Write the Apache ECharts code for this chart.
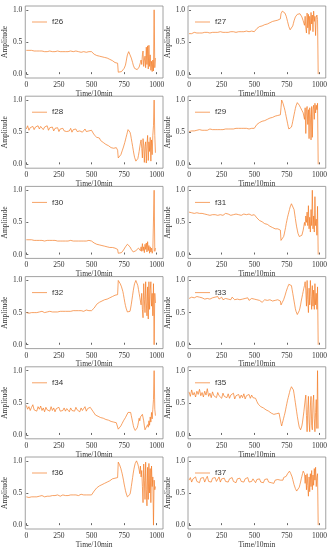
<!DOCTYPE html>
<html><head><meta charset="utf-8">
<script src="https://cdn.jsdelivr.net/npm/echarts@6/dist/echarts.min.js"></script>
<style>html,body{margin:0;padding:0;background:#fff}#c{width:330px;height:550px}</style>
</head><body><div id="c"></div>
<script>
// time positions (Time/10min)
const X = [0,10,20,30,40,50,60,70,80,90,100,110,120,130,140,150,160,170,180,190,
200,210,220,230,240,250,260,270,280,290,300,310,320,330,340,350,360,370,380,390,
400,410,420,430,440,450,460,470,480,490,500,510,520,530,540,550,560,570,580,590,
600,610,620,630,640,650,660,670,680,690,
700,705,710,715,720,725,730,735,740,745,750,755,760,765,770,775,780,785,790,795,
800,805,810,815,820,825,830,835,840,845,850,855,860,865,870,875,880,885,890,895,
900,905,910,915,920,925,930,935,940,945,950,955,960,965,970,975,980,985,990];
const xTicks = [0,250,500,750,1000];
const yTicks = [0,0.5,1];
const names = ['f26','f27','f28','f29','f30','f31','f32','f33','f34','f35','f36','f37'];

const f26 = [0.37,0.36,0.37,0.36,0.37,0.36,0.36,0.37,0.36,0.36,
0.36,0.35,0.36,0.36,0.35,0.36,0.35,0.36,0.36,0.37,
0.35,0.36,0.35,0.35,0.36,0.35,0.35,0.36,0.35,0.35,
0.35,0.36,0.35,0.35,0.36,0.35,0.35,0.35,0.36,0.35,
0.35,0.35,0.34,0.35,0.35,0.35,0.34,0.35,0.35,0.34,
0.35,0.34,0.31,0.30,0.29,0.29,0.28,0.27,0.27,0.26,
0.26,0.25,0.25,0.24,0.23,0.22,0.21,0.19,0.18,0.18,
0.17,0.03,0.02,0.02,0.03,0.03,0.04,0.05,0.06,0.07,
0.09,0.11,0.14,0.19,0.25,0.30,0.33,0.35,0.34,0.30,
0.27,0.25,0.22,0.18,0.14,0.11,0.09,0.08,0.07,0.06,
0.07,0.08,0.09,0.11,0.14,0.18,0.22,0.15,0.30,0.36,
0.12,0.22,0.28,0.10,0.42,0.15,0.44,0.08,0.45,0.12,
0.30,0.06,0.20,0.04,0.22,0.05,1.00,0.10,0.25];
const f27 = [0.63,0.64,0.63,0.64,0.65,0.64,0.64,0.65,0.64,0.65,
0.64,0.65,0.65,0.64,0.65,0.65,0.64,0.65,0.65,0.65,
0.65,0.66,0.65,0.65,0.66,0.65,0.65,0.66,0.65,0.66,
0.65,0.66,0.66,0.65,0.66,0.66,0.65,0.66,0.66,0.66,
0.66,0.65,0.66,0.66,0.67,0.66,0.66,0.66,0.67,0.66,
0.66,0.67,0.71,0.73,0.74,0.75,0.75,0.76,0.77,0.78,
0.78,0.79,0.80,0.81,0.82,0.83,0.83,0.84,0.84,0.85,
0.86,0.94,0.96,0.98,1.00,0.99,0.97,0.95,0.93,0.90,
0.86,0.82,0.78,0.74,0.71,0.69,0.69,0.70,0.72,0.75,
0.79,0.83,0.86,0.89,0.91,0.92,0.93,0.93,0.92,0.93,
0.94,0.93,0.91,0.89,0.86,0.83,0.80,0.76,0.90,0.72,
0.64,0.95,0.72,0.93,0.62,0.90,0.68,0.96,0.78,0.92,
0.66,0.98,0.82,0.90,0.60,0.88,0.92,0.85,0.00];
const f28 = [0.55,0.60,0.53,0.57,0.55,0.59,0.54,0.58,0.56,0.60,
0.55,0.59,0.62,0.54,0.58,0.56,0.60,0.53,0.57,0.55,
0.58,0.52,0.56,0.54,0.57,0.51,0.55,0.53,0.56,0.52,
0.55,0.51,0.54,0.52,0.56,0.50,0.54,0.52,0.55,0.51,
0.54,0.52,0.55,0.50,0.53,0.55,0.51,0.54,0.52,0.55,
0.53,0.50,0.46,0.44,0.42,0.40,0.41,0.37,0.36,0.34,
0.35,0.31,0.32,0.29,0.28,0.26,0.27,0.25,0.24,0.26,
0.22,0.10,0.08,0.11,0.13,0.15,0.18,0.21,0.24,0.27,
0.30,0.34,0.38,0.42,0.46,0.50,0.54,0.57,0.55,0.50,
0.46,0.40,0.34,0.28,0.22,0.16,0.11,0.08,0.05,0.04,
0.06,0.09,0.14,0.20,0.27,0.33,0.38,0.25,0.10,0.40,
0.30,0.03,0.28,0.35,0.02,0.30,0.45,0.06,0.35,0.20,
0.42,0.05,0.38,0.15,0.45,0.60,1.00,0.45,0.18];
const f29 = [0.51,0.53,0.52,0.53,0.52,0.54,0.53,0.52,0.54,0.53,
0.53,0.54,0.53,0.54,0.53,0.54,0.55,0.53,0.54,0.54,
0.54,0.55,0.54,0.55,0.54,0.55,0.54,0.55,0.55,0.54,
0.55,0.54,0.55,0.56,0.55,0.55,0.56,0.55,0.56,0.55,
0.56,0.55,0.56,0.55,0.56,0.57,0.55,0.56,0.56,0.55,
0.56,0.57,0.62,0.64,0.65,0.66,0.67,0.68,0.68,0.69,
0.70,0.71,0.72,0.73,0.73,0.74,0.75,0.76,0.76,0.77,
0.77,0.88,1.00,0.98,0.95,0.92,0.88,0.84,0.79,0.74,
0.69,0.64,0.59,0.55,0.53,0.53,0.55,0.58,0.62,0.67,
0.72,0.77,0.82,0.87,0.91,0.94,0.96,0.95,0.93,0.92,
0.90,0.88,0.86,0.84,0.82,0.80,0.78,0.70,0.88,0.48,
0.85,0.90,0.62,0.85,0.40,0.88,0.75,0.38,0.90,0.42,
0.85,0.92,0.70,0.95,0.80,0.92,0.85,0.95,0.00];
const f30 = [0.23,0.22,0.23,0.22,0.23,0.22,0.22,0.23,0.22,0.22,
0.22,0.23,0.22,0.22,0.21,0.22,0.22,0.21,0.22,0.22,
0.22,0.21,0.22,0.22,0.21,0.22,0.21,0.22,0.21,0.22,
0.21,0.22,0.21,0.21,0.22,0.21,0.21,0.22,0.21,0.21,
0.21,0.22,0.21,0.21,0.21,0.22,0.21,0.21,0.22,0.21,
0.21,0.20,0.18,0.17,0.16,0.16,0.15,0.15,0.14,0.14,
0.13,0.13,0.12,0.12,0.11,0.11,0.11,0.10,0.10,0.10,
0.08,0.02,0.01,0.01,0.02,0.02,0.03,0.04,0.05,0.07,
0.08,0.10,0.12,0.14,0.15,0.16,0.16,0.15,0.14,0.12,
0.10,0.08,0.06,0.05,0.04,0.04,0.04,0.05,0.06,0.07,
0.08,0.09,0.10,0.11,0.10,0.06,0.12,0.05,0.17,0.06,
0.12,0.03,0.16,0.08,0.18,0.04,0.20,0.06,0.14,0.02,
0.12,0.04,0.10,0.02,0.06,0.03,1.00,0.05,0.10];
const f31 = [0.66,0.63,0.65,0.62,0.64,0.63,0.65,0.62,0.64,0.63,
0.64,0.62,0.63,0.65,0.62,0.63,0.61,0.64,0.62,0.63,
0.62,0.64,0.61,0.63,0.62,0.63,0.61,0.62,0.64,0.61,
0.63,0.62,0.61,0.63,0.62,0.60,0.63,0.61,0.62,0.63,
0.61,0.62,0.63,0.61,0.62,0.60,0.63,0.62,0.61,0.63,
0.62,0.60,0.57,0.55,0.53,0.52,0.51,0.50,0.48,0.48,
0.47,0.45,0.44,0.43,0.42,0.41,0.40,0.39,0.40,0.40,
0.38,0.22,0.20,0.22,0.25,0.28,0.32,0.37,0.42,0.48,
0.53,0.58,0.62,0.66,0.70,0.74,0.77,0.79,0.80,0.79,
0.76,0.70,0.63,0.56,0.49,0.43,0.38,0.33,0.30,0.28,
0.27,0.27,0.28,0.30,0.33,0.38,0.44,0.50,0.45,0.60,
0.50,0.66,0.45,0.76,0.40,0.58,0.35,0.70,0.45,1.00,
0.40,0.60,0.35,0.90,0.45,0.55,0.30,0.75,0.00];
const f32 = [0.50,0.51,0.49,0.51,0.50,0.52,0.50,0.51,0.50,0.52,
0.51,0.50,0.52,0.51,0.50,0.52,0.51,0.51,0.52,0.50,
0.51,0.52,0.51,0.52,0.51,0.52,0.52,0.51,0.52,0.52,
0.52,0.51,0.52,0.53,0.52,0.52,0.53,0.52,0.53,0.52,
0.53,0.52,0.53,0.53,0.52,0.53,0.54,0.53,0.53,0.54,
0.53,0.54,0.57,0.60,0.63,0.65,0.66,0.67,0.68,0.69,
0.70,0.70,0.71,0.72,0.73,0.74,0.75,0.76,0.77,0.77,
0.78,1.00,0.98,0.97,0.95,0.93,0.90,0.87,0.83,0.78,
0.72,0.66,0.61,0.57,0.54,0.51,0.49,0.48,0.49,0.52,
0.57,0.63,0.70,0.77,0.84,0.90,0.95,0.98,1.00,1.00,
0.97,0.92,0.86,0.80,0.74,0.68,0.62,0.80,0.55,0.42,
0.95,0.70,0.50,0.98,0.65,0.45,0.90,0.40,0.98,0.55,
0.85,0.98,0.60,0.80,0.45,0.95,0.00,0.80,0.65];
const f33 = [0.72,0.70,0.74,0.71,0.73,0.70,0.75,0.72,0.74,0.71,
0.73,0.76,0.71,0.74,0.72,0.75,0.71,0.74,0.73,0.70,
0.74,0.72,0.75,0.71,0.73,0.74,0.70,0.73,0.72,0.74,
0.71,0.73,0.70,0.74,0.72,0.70,0.73,0.71,0.72,0.70,
0.73,0.71,0.69,0.72,0.70,0.73,0.69,0.71,0.72,0.69,
0.71,0.68,0.70,0.67,0.69,0.71,0.66,0.69,0.70,0.67,
0.69,0.66,0.70,0.67,0.68,0.65,0.69,0.67,0.70,0.68,
0.68,0.62,0.63,0.66,0.68,0.70,0.73,0.76,0.79,0.83,
0.86,0.89,0.92,0.94,0.96,0.97,0.96,0.92,0.86,0.80,
0.74,0.68,0.62,0.56,0.52,0.49,0.47,0.48,0.50,0.53,
0.57,0.62,0.68,0.73,0.78,0.83,0.88,0.92,0.98,0.85,
0.60,1.00,0.70,0.50,0.88,0.62,1.00,0.75,0.55,0.92,
0.60,0.85,0.55,0.95,0.62,0.80,0.55,0.90,0.00];
const f34 = [0.46,0.40,0.44,0.38,0.43,0.47,0.39,0.42,0.37,0.44,
0.40,0.45,0.38,0.42,0.36,0.43,0.39,0.41,0.37,0.44,
0.38,0.42,0.36,0.41,0.39,0.43,0.37,0.40,0.38,0.42,
0.37,0.41,0.39,0.36,0.42,0.38,0.40,0.37,0.43,0.39,
0.41,0.36,0.42,0.38,0.40,0.44,0.37,0.41,0.39,0.43,
0.40,0.37,0.34,0.31,0.33,0.29,0.30,0.27,0.29,0.26,
0.27,0.24,0.26,0.23,0.24,0.21,0.22,0.20,0.21,0.19,
0.18,0.09,0.08,0.10,0.12,0.14,0.16,0.18,0.20,0.22,
0.23,0.25,0.27,0.29,0.31,0.33,0.35,0.37,0.38,0.37,
0.35,0.30,0.25,0.20,0.15,0.11,0.08,0.07,0.07,0.08,
0.11,0.15,0.20,0.26,0.22,0.28,0.30,0.26,0.32,0.30,
0.22,0.14,0.08,0.05,0.06,0.10,0.16,0.12,0.22,0.15,
0.28,0.20,0.35,0.25,0.40,0.55,1.00,0.40,0.30];
const f35 = [0.67,0.60,0.70,0.62,0.66,0.59,0.68,0.63,0.71,0.61,
0.66,0.59,0.68,0.62,0.72,0.60,0.65,0.58,0.67,0.61,
0.64,0.58,0.66,0.61,0.63,0.57,0.65,0.60,0.62,0.58,
0.64,0.57,0.62,0.59,0.65,0.56,0.61,0.58,0.63,0.57,
0.62,0.58,0.64,0.56,0.61,0.59,0.63,0.57,0.62,0.58,
0.61,0.57,0.52,0.48,0.47,0.44,0.45,0.42,0.41,0.39,
0.40,0.37,0.36,0.34,0.36,0.32,0.30,0.33,0.31,0.34,
0.33,0.18,0.14,0.18,0.22,0.26,0.30,0.34,0.39,0.44,
0.49,0.54,0.58,0.62,0.66,0.70,0.73,0.75,0.76,0.74,
0.70,0.64,0.57,0.50,0.43,0.36,0.29,0.23,0.17,0.12,
0.09,0.08,0.10,0.14,0.20,0.28,0.36,0.45,0.54,0.62,
0.30,0.05,0.40,0.60,0.20,0.05,0.45,0.60,0.15,0.08,
0.50,0.62,0.25,0.05,0.35,0.55,0.10,1.00,0.10];
const f36 = [0.44,0.45,0.43,0.45,0.44,0.46,0.44,0.45,0.44,0.46,
0.45,0.44,0.46,0.45,0.44,0.46,0.45,0.46,0.45,0.45,
0.46,0.45,0.46,0.45,0.47,0.46,0.45,0.46,0.47,0.46,
0.46,0.47,0.46,0.46,0.47,0.46,0.47,0.46,0.47,0.47,
0.46,0.47,0.48,0.47,0.47,0.48,0.47,0.48,0.47,0.48,
0.47,0.48,0.53,0.56,0.58,0.60,0.61,0.62,0.63,0.64,
0.65,0.66,0.67,0.68,0.69,0.71,0.72,0.73,0.73,0.73,
0.74,0.98,0.96,0.94,0.92,0.88,0.84,0.80,0.75,0.70,
0.64,0.59,0.54,0.50,0.47,0.44,0.42,0.42,0.44,0.48,
0.53,0.60,0.67,0.74,0.81,0.87,0.92,0.96,0.99,1.00,
0.98,0.95,0.91,0.86,0.80,0.92,0.75,0.85,0.60,0.35,
0.95,0.70,0.40,0.98,0.55,0.30,0.90,0.40,0.96,0.50,
0.88,0.35,0.92,0.60,0.75,0.00,0.70,0.55,0.60];
const f37 = [0.70,0.74,0.67,0.72,0.69,0.75,0.68,0.71,0.66,0.73,
0.70,0.74,0.67,0.72,0.76,0.68,0.71,0.67,0.73,0.70,
0.74,0.68,0.71,0.75,0.67,0.72,0.69,0.73,0.68,0.71,
0.67,0.72,0.70,0.74,0.68,0.71,0.66,0.72,0.69,0.73,
0.68,0.71,0.67,0.72,0.70,0.74,0.67,0.70,0.68,0.72,
0.69,0.66,0.71,0.68,0.72,0.67,0.70,0.66,0.71,0.68,
0.72,0.67,0.70,0.66,0.69,0.65,0.70,0.67,0.71,0.68,
0.70,0.73,0.68,0.72,0.70,0.74,0.71,0.75,0.73,0.76,
0.78,0.80,0.82,0.83,0.84,0.82,0.80,0.78,0.75,0.71,
0.67,0.63,0.60,0.57,0.55,0.53,0.53,0.54,0.56,0.59,
0.63,0.67,0.72,0.76,0.80,0.84,0.86,0.80,0.65,0.78,
0.55,0.80,0.62,0.45,0.75,0.52,0.80,0.60,0.85,0.55,
0.78,0.62,0.88,0.70,0.90,0.60,0.75,0.80,0.00];

const seriesData = [f26,f27,f28,f29,f30,f31,f32,f33,f34,f35,f36,f37];

const LINE = '#f47a22';
const serif = 'Liberation Serif';
const colLeft = [25, 188];
const colW = [138, 139];
const rowTop0 = 6, rowPitch = 90.2, boxH = 72;

const grid = [], xAxis = [], yAxis = [], series = [], legend = [];
seriesData.forEach((arr, i) => {
  const r = Math.floor(i / 2), c = i % 2;
  const top = rowTop0 + r * rowPitch;
  grid.push({left: colLeft[c], top: top, width: colW[c], height: boxH,
    show: true, borderColor: '#8a8a8a', borderWidth: 0.8, backgroundColor: 'transparent'});
  xAxis.push({type: 'value', gridIndex: i, min: -8, max: 1048,
    name: 'Time/10min', nameLocation: 'middle', nameGap: 10,
    nameTextStyle: {fontFamily: serif, fontSize: 7.5, color: '#333'},
    axisLine: {show: false}, splitLine: {show: false},
    axisTick: {show: true, inside: true, length: 2, customValues: xTicks, lineStyle: {color: '#666'}},
    axisLabel: {customValues: xTicks, fontFamily: serif, fontSize: 7.5, color: '#333', margin: 3,
      formatter: v => String(v)}});
  yAxis.push({type: 'value', gridIndex: i, min: -0.06, max: 1.06,
    name: 'Amplitude', nameLocation: 'middle', nameGap: 15,
    nameTextStyle: {fontFamily: serif, fontSize: 7.5, color: '#333'},
    axisLine: {show: false}, splitLine: {show: false},
    axisTick: {show: true, inside: true, length: 2, customValues: yTicks, lineStyle: {color: '#666'}},
    axisLabel: {customValues: yTicks, fontFamily: serif, fontSize: 7.5, color: '#333', margin: 3,
      formatter: v => v.toFixed(1)}});
  series.push({type: 'line', name: names[i], xAxisIndex: i, yAxisIndex: i,
    data: X.map((x, j) => [x, arr[j]]), symbol: 'none', showSymbol: false,
    lineStyle: {width: 0.7, color: LINE}, itemStyle: {color: LINE}});
  legend.push({data: [names[i]], left: colLeft[c] + 2, top: top + 7,
    icon: 'rect', itemWidth: 15, itemHeight: 1, itemGap: 4,
    itemStyle: {color: '#f7a366'},
    textStyle: {fontFamily: 'Liberation Sans', fontSize: 8, color: '#333'}});
});

const chart = echarts.init(document.getElementById('c'), null, {renderer: 'canvas'});
chart.setOption({animation: false, backgroundColor: '#fff', grid, xAxis, yAxis, series, legend});
</script>
</body></html>
